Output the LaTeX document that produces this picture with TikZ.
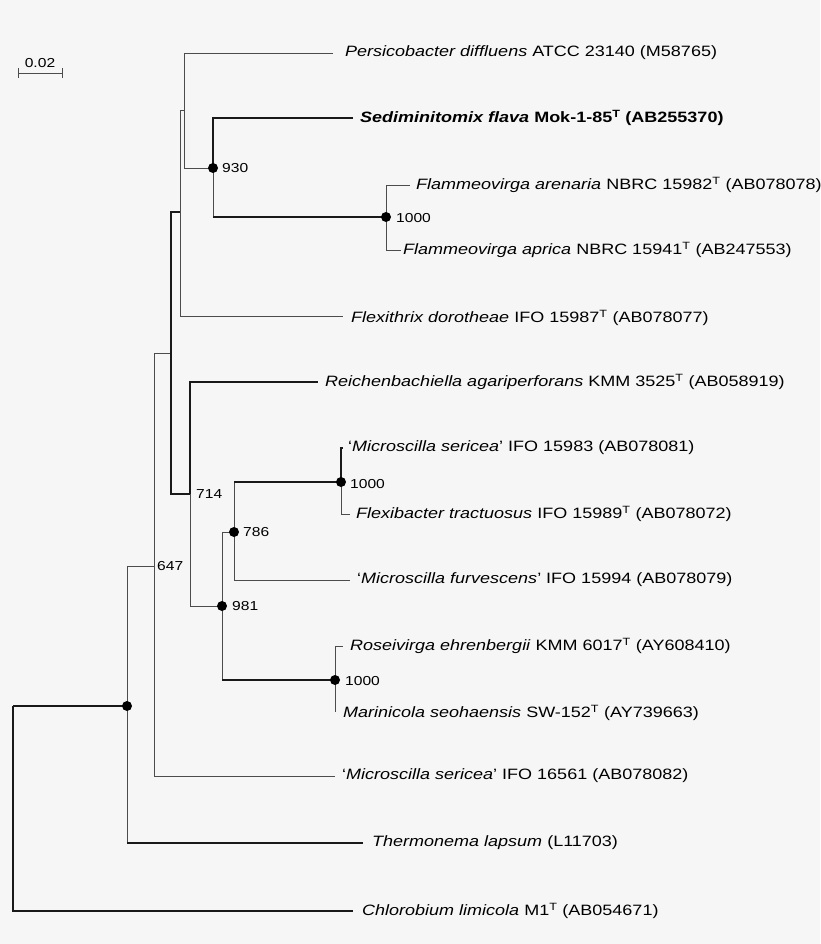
\documentclass[tikz,border=0pt]{standalone}
\usepackage{fontspec}
\setmainfont{Liberation Sans}[FakeStretch=1.2]
\begin{document}
\begin{tikzpicture}[x=1pt,y=-1pt,
  thn/.style={draw=black!70,line width=0.9pt},
  thk/.style={draw=black!90,line width=1.7pt},
  lf/.style={anchor=west,inner sep=0pt,font=\fontsize{15}{17}\selectfont},
  bs/.style={anchor=west,inner sep=0pt,font=\fontsize{13}{15}\selectfont},
  dot/.style={fill=black,circle,inner sep=0pt,minimum size=10pt}]
\fill[gray!7] (0,0) rectangle (820,944);
\useasboundingbox (0,0) rectangle (820,944);
% scale bar
\draw[thn] (18,73) -- (62,73) (18,68) -- (18,78) (62,68) -- (62,78);
\node[inner sep=0pt,font=\fontsize{13}{15}\selectfont] (sb) at (40,63) {0.02};
% internal coordinates
\coordinate (r) at (13,706);
\coordinate (n127) at (127,706);
\coordinate (n154) at (154,566);
\coordinate (n171) at (171,353);
\coordinate (n180) at (180,212);
\coordinate (n184) at (184,110);
\coordinate (n213) at (213,168);
\coordinate (n386) at (386,217);
\coordinate (n190) at (190,494);
\coordinate (n222) at (222,606);
\coordinate (n234) at (234,532);
\coordinate (n341) at (341,482);
\coordinate (n335) at (335,680);
% leaf line ends
\coordinate (lPer) at (333,53);
\coordinate (lSed) at (353,118);
\coordinate (lFar) at (410,185);
\coordinate (lFap) at (401,250);
\coordinate (lFlx) at (343,316);
\coordinate (lRei) at (318,382);
\coordinate (lMs1) at (343,448);
\coordinate (lFlb) at (350,514);
\coordinate (lMfu) at (350,580);
\coordinate (lRos) at (343,646);
\coordinate (lMar) at (335,712);
\coordinate (lMs2) at (335,776);
\coordinate (lThe) at (363,843);
\coordinate (lChl) at (353,911);
% edges
\draw[thk] (r) |- (lChl);
\draw[thk] (r) -- (n127);
\draw[thn] (n127) |- (lThe);
\draw[thk] (n127 |- lThe) -- (lThe);
\draw[thn] (n127) |- (n154);
\draw[thn] (n154) |- (lMs2);
\draw[thn] (n154) |- (n171);
\draw[thk] (n171) |- (n180);
\draw[thk] (n171) |- (n190);
\draw[thn] (n180) |- (n184);
\draw[thn] (n180) |- (lFlx);
\draw[thn] (n184) |- (lPer);
\draw[thn] (n184) |- (n213);
\draw[thk] (n213) |- (lSed);
\draw[thn] (n213) |- (n386);
\draw[thk] (n213 |- n386) -- (n386);
\draw[thn] (n386) |- (lFar);
\draw[thn] (n386) |- (lFap);
\draw[thk] (n190) |- (lRei);
\draw[thn] (n190) |- (n222);
\draw[thn] (n222) |- (n234);
\draw[thn] (n222) |- (n335);
\draw[thk] (n222 |- n335) -- (n335);
\draw[thn] (n234) |- (lMfu);
\draw[thn] (n234) |- (n341);
\draw[thk] (n234 |- n341) -- (n341);
\draw[thk] (n341) |- (lMs1);
\draw[thn] (n341) |- (lFlb);
\draw[thn] (n335) |- (lRos);
\draw[thn] (n335) -- (lMar);
% dots
\node[dot] (d127) at (n127) {};
\node[dot] (d213) at (n213) {};
\node[dot] (d386) at (n386) {};
\node[dot] (d234) at (n234) {};
\node[dot] (d222) at (n222) {};
\node[dot] (d341) at (n341) {};
\node[dot] (d335) at (n335) {};
% bootstrap
\node[bs] (b930) at (222,168) {930};
\node[bs] (b1a) at (396,218) {1000};
\node[bs] (b714) at (196,494) {714};
\node[bs] (b786) at (243,532) {786};
\node[bs] (b981) at (232,606) {981};
\node[bs] (b1b) at (350,484) {1000};
\node[bs] (b1c) at (345,681) {1000};
\node[bs] (b647) at (157,566) {647};
% leaves
\node[lf] (tPer) at (345,53) {\textit{Persicobacter diffluens} ATCC 23140 (M58765)};
\node[lf] (tSed) at (360,118) {\textbf{\textit{Sediminitomix flava} Mok-1-85\textsuperscript{T} (AB255370)}};
\node[lf] (tFar) at (416,185) {\textit{Flammeovirga arenaria} NBRC 15982\textsuperscript{T} (AB078078)};
\node[lf] (tFap) at (403,250) {\textit{Flammeovirga aprica} NBRC 15941\textsuperscript{T} (AB247553)};
\node[lf] (tFlx) at (351,318) {\textit{Flexithrix dorotheae} IFO 15987\textsuperscript{T} (AB078077)};
\node[lf] (tRei) at (325,382) {\textit{Reichenbachiella agariperforans} KMM 3525\textsuperscript{T} (AB058919)};
\node[lf] (tMs1) at (348,448) {`\textit{Microscilla sericea}' IFO 15983 (AB078081)};
\node[lf] (tFlb) at (356,514) {\textit{Flexibacter tractuosus} IFO 15989\textsuperscript{T} (AB078072)};
\node[lf] (tMfu) at (357,580) {`\textit{Microscilla furvescens}' IFO 15994 (AB078079)};
\node[lf] (tRos) at (350,646) {\textit{Roseivirga ehrenbergii} KMM 6017\textsuperscript{T} (AY608410)};
\node[lf] (tMar) at (343,713) {\textit{Marinicola seohaensis} SW-152\textsuperscript{T} (AY739663)};
\node[lf] (tMs2) at (342,776) {`\textit{Microscilla sericea}' IFO 16561 (AB078082)};
\node[lf] (tThe) at (372,843) {\textit{Thermonema lapsum} (L11703)};
\node[lf] (tChl) at (362,911) {\textit{Chlorobium limicola} M1\textsuperscript{T} (AB054671)};
\end{tikzpicture}
\end{document}
